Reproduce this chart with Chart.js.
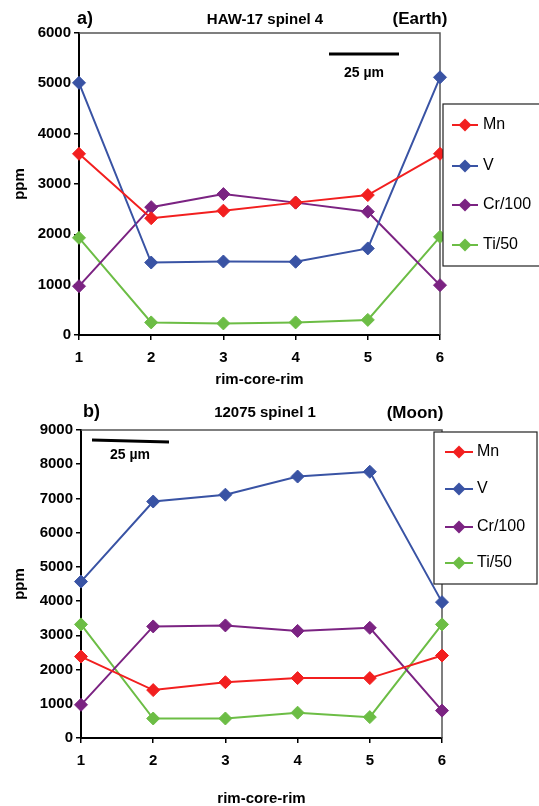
<!DOCTYPE html>
<html>
<head>
<meta charset="utf-8">
<script src="https://cdn.jsdelivr.net/npm/chart.js@4.4.1/dist/chart.umd.min.js"></script>
<style>
  html, body { margin: 0; padding: 0; background: #fff; overflow: hidden; }
  canvas { position: absolute; left: 0; }
  #earth { top: 0; }
  #moon { top: 400px; }
</style>
</head>
<body>
<canvas id="earth" width="539" height="400"></canvas>
<canvas id="moon" width="539" height="406"></canvas>
<script>
const positions = ['1', '2', '3', '4', '5', '6'];
const seriesNames = ['Mn', 'V', 'Cr/100', 'Ti/50'];
const seriesColors = ['#f21f1f', '#3953a4', '#7b2382', '#6cbd45'];

// a) HAW-17 spinel 4 (Earth)
const earthMn = [3600, 2320, 2470, 2630, 2780, 3600];
const earthV = [5010, 1440, 1460, 1455, 1720, 5120];
const earthCr = [970, 2540, 2800, 2630, 2450, 990];
const earthTi = [1930, 250, 230, 250, 300, 1950];

// b) 12075 spinel 1 (Moon)
const moonMn = [2380, 1400, 1630, 1750, 1750, 2410];
const moonV = [4570, 6910, 7110, 7640, 7780, 3970];
const moonCr = [970, 3260, 3290, 3130, 3220, 800];
const moonTi = [3320, 570, 570, 740, 610, 3320];

const FONT = '"Liberation Sans", Arial, sans-serif';
Chart.defaults.font.family = FONT;

// frame, scale bar, panel texts and legend box
const decor = {
  id: 'decor',
  beforeDatasetsDraw(chart, args, o) {
    const { ctx, chartArea: a } = chart;
    ctx.save();
    ctx.strokeStyle = '#555';
    ctx.lineWidth = 1.5;
    ctx.beginPath();
    ctx.moveTo(a.left, a.top);
    ctx.lineTo(a.right, a.top);
    ctx.lineTo(a.right, a.bottom);
    ctx.stroke();

    ctx.strokeStyle = '#000';
    ctx.lineWidth = 3;
    ctx.beginPath();
    ctx.moveTo(o.bar[0], o.bar[1]);
    ctx.lineTo(o.bar[2], o.bar[3]);
    ctx.stroke();
    ctx.restore();
  },
  afterDraw(chart, args, o) {
    const ctx = chart.ctx;
    ctx.save();
    ctx.fillStyle = '#000';
    ctx.textBaseline = 'middle';

    ctx.textAlign = 'left';
    ctx.font = 'bold 18px ' + FONT;
    ctx.fillText(o.letter, o.letterPos[0], o.letterPos[1]);

    ctx.textAlign = 'center';
    ctx.font = 'bold 15px ' + FONT;
    ctx.fillText(o.title, o.titlePos[0], o.titlePos[1]);
    ctx.font = 'bold 17px ' + FONT;
    ctx.fillText(o.place, o.placePos[0], o.placePos[1]);
    ctx.font = 'bold 14px ' + FONT;
    ctx.fillText('25 µm', o.barLabel[0], o.barLabel[1]);

    // legend
    const L = o.legend;
    ctx.fillStyle = '#fff';
    ctx.fillRect(L.x, L.y, L.w, L.h);
    ctx.strokeStyle = '#222';
    ctx.lineWidth = 1.2;
    ctx.strokeRect(L.x, L.y, L.w, L.h);
    ctx.font = '16px ' + FONT;
    ctx.textAlign = 'left';
    chart.data.datasets.forEach((ds, i) => {
      const y = L.rows[i];
      ctx.strokeStyle = ds.borderColor;
      ctx.lineWidth = 2;
      ctx.beginPath();
      ctx.moveTo(L.line[0], y);
      ctx.lineTo(L.line[1], y);
      ctx.stroke();
      const mx = (L.line[0] + L.line[1]) / 2, r = 6.5;
      ctx.fillStyle = ds.borderColor;
      ctx.beginPath();
      ctx.moveTo(mx, y - r);
      ctx.lineTo(mx + r, y);
      ctx.lineTo(mx, y + r);
      ctx.lineTo(mx - r, y);
      ctx.closePath();
      ctx.fill();
      ctx.fillStyle = '#000';
      ctx.fillText(ds.label, L.textX, y);
    });
    ctx.restore();
  }
};

function makeChart(id, series, yMax, deco) {
  const bold15 = { size: 15, weight: 'bold' };
  return new Chart(document.getElementById(id), {
    type: 'line',
    data: {
      labels: positions,
      datasets: series.map((d, i) => ({
        label: seriesNames[i],
        data: d,
        borderColor: seriesColors[i],
        backgroundColor: seriesColors[i],
        borderWidth: 2,
        pointStyle: 'rectRot',
        pointRadius: 6.5,
        pointHoverRadius: 6.5,
        pointBorderWidth: 1,
        tension: 0,
        clip: false
      }))
    },
    options: {
      responsive: false,
      animation: false,
      events: [],
      layout: { padding: { left: 0, right: 539 - deco.right, top: deco.top, bottom: 0 } },
      scales: {
        x: {
          offset: false,
          grid: { drawOnChartArea: false, tickLength: 5, color: '#000', lineWidth: 1.5 },
          border: { color: '#000', width: 2 },
          ticks: { color: '#000', font: bold15, padding: 9, maxRotation: 0 },
          title: { display: true, text: 'rim-core-rim', color: '#000', font: bold15,
                   padding: { top: 0, bottom: deco.xTitlePad } },
          afterFit: s => { s.height = deco.xAxisH; }
        },
        y: {
          min: 0,
          max: yMax,
          grid: { drawOnChartArea: false, tickLength: 5, color: '#000', lineWidth: 1.5 },
          border: { color: '#000', width: 2 },
          ticks: { stepSize: 1000, color: '#000', font: bold15, padding: 3, callback: v => String(v) },
          title: { display: true, text: 'ppm', color: '#000', font: bold15, padding: { top: 11, bottom: 0 } },
          afterFit: s => { s.width = deco.left; }
        }
      },
      plugins: {
        legend: { display: false },
        tooltip: { enabled: false },
        decor: deco
      }
    },
    plugins: [decor]
  });
}

makeChart('earth', [earthMn, earthV, earthCr, earthTi], 6000, {
  left: 79, right: 440, top: 33, xAxisH: 65, xTitlePad: 11,
  letter: 'a)', letterPos: [77, 19],
  title: 'HAW-17 spinel 4', titlePos: [265, 20],
  place: '(Earth)', placePos: [420, 19],
  bar: [329, 54, 399, 54], barLabel: [364, 73],
  legend: { x: 443, y: 104, w: 100, h: 162, rows: [125, 166, 205, 245], line: [452, 478], textX: 483 }
});

makeChart('moon', [moonMn, moonV, moonCr, moonTi], 9000, {
  left: 81, right: 442, top: 30, xAxisH: 68, xTitlePad: -2,
  letter: 'b)', letterPos: [83, 12],
  title: '12075 spinel 1', titlePos: [265, 13],
  place: '(Moon)', placePos: [415, 13],
  bar: [92, 40, 169, 42], barLabel: [130, 55],
  legend: { x: 434, y: 32, w: 103, h: 152, rows: [52, 89, 127, 163], line: [445, 473], textX: 477 }
});
</script>
</body>
</html>
